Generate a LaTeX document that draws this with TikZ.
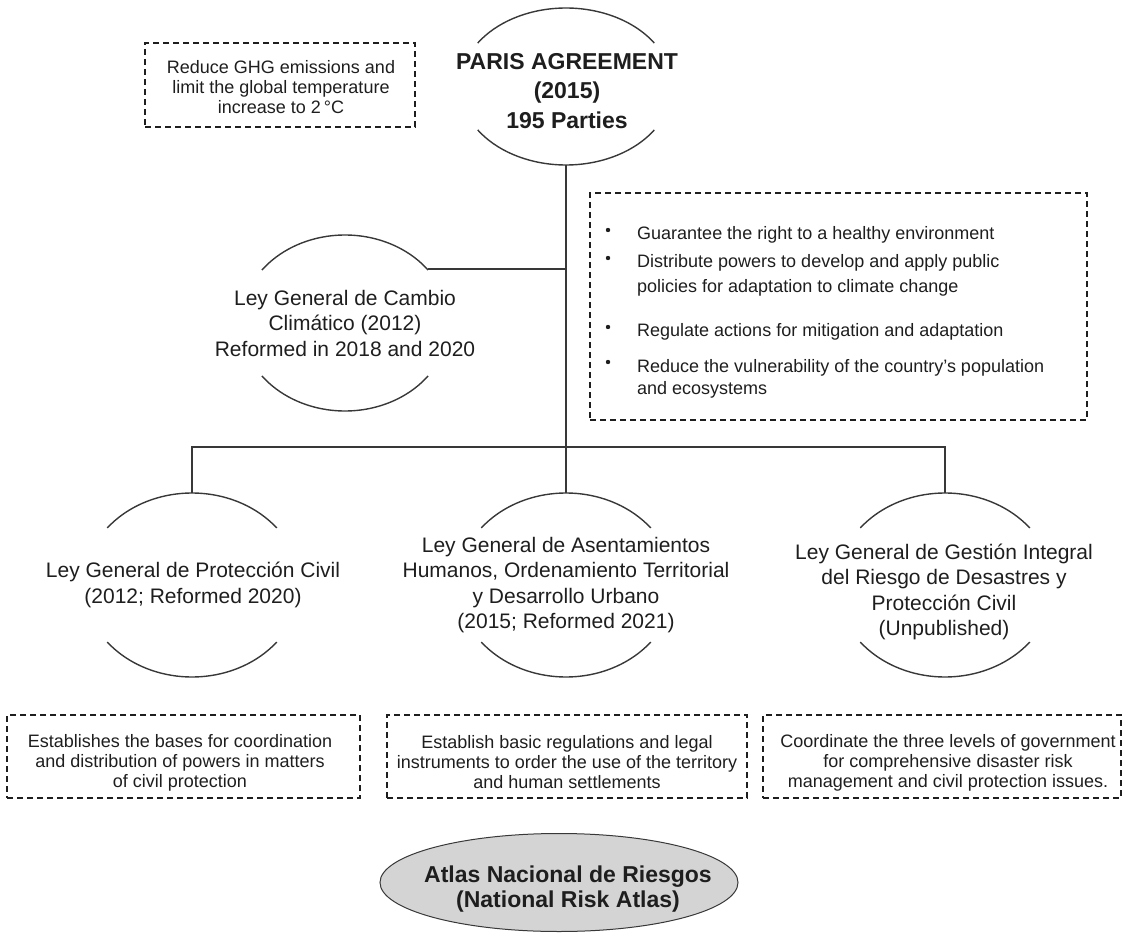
\documentclass[tikz,border=0pt]{standalone}
\usepackage{fontspec}
\setmainfont{Liberation Sans}
\usetikzlibrary{shapes.geometric}
\definecolor{ink}{HTML}{1E1E1E}
\definecolor{linec}{HTML}{383838}
\definecolor{atlasfill}{HTML}{D4D4D4}
\newcommand\pairarcs[4]{%
  \draw[arcl] (#1) ++(#4:#2pt and #3pt) arc[start angle=#4, end angle=180-#4, x radius=#2pt, y radius=#3pt];
  \draw[arcl] (#1) ++(-#4:#2pt and #3pt) arc[start angle=-#4, end angle=-180+#4, x radius=#2pt, y radius=#3pt];}
\begin{document}
\begin{tikzpicture}[x=1pt,y=1pt,
  arcl/.style={draw=linec, line width=1.4pt},
  conn/.style={draw=linec, line width=1.4pt},
  dbox/.style={draw=ink, line width=1.5pt, dash pattern=on 6pt off 4pt, inner sep=0pt},
  ley/.style={text=ink, align=center, font=\fontsize{21}{25.5}\selectfont},
  small/.style={text=ink, align=center, font=\fontsize{18}{20}\selectfont},
  item/.style={text=ink, align=left, anchor=west, inner sep=0pt},
  boldt/.style={text=ink, align=center, font=\bfseries\fontsize{23}{29.5}\selectfont}]

\useasboundingbox (0,0) rectangle (1124,-933);

% ---- Paris Agreement
\coordinate (pC) at (566,-86.5);
\pairarcs{pC}{106}{78.5}{33.6}
\coordinate (parisB) at (566,-165);
\node[boldt] (paris) at (567,-91) {PARIS AGREEMENT\\(2015)\\195 Parties};

% ---- goal box
\node[dbox, minimum width=270pt, minimum height=84pt] (goal) at (280,-85) {};
\node[small] (goaltxt) at (281,-87) {Reduce GHG emissions and\\limit the global temperature\\increase to 2\,°C};

% ---- bullet box
\node[dbox, minimum width=497pt, minimum height=227pt] (bbox) at (838.5,-306.5) {};
\node[item, font=\fontsize{18}{24}\selectfont] (i1) at (637,-235) {Guarantee the right to a healthy environment};
\node[item, font=\fontsize{18}{25}\selectfont] (i2) at (637,-275.5) {Distribute powers to develop and apply public\\policies for adaptation to climate change};
\node[item, font=\fontsize{18}{24}\selectfont] (i3) at (637,-332) {Regulate actions for mitigation and adaptation};
\node[item, font=\fontsize{18}{22}\selectfont] (i4) at (637,-379) {Reduce the vulnerability of the country’s population\\and ecosystems};
\foreach \yy in {230,258,327,362} \fill[ink] (608,-\yy) circle (2.2pt);

% ---- Cambio Climatico
\coordinate (cC) at (345,-323);
\pairarcs{cC}{104}{88}{37}
\node[ley] (cambio) at (345,-323) {Ley General de Cambio\\Climático (2012)\\Reformed in 2018 and 2020};
\coordinate (cambioR) at (428,-269);

% ---- lower laws
\coordinate (prC) at (192,-585);
\coordinate (asC) at (566,-585);
\coordinate (geC) at (945,-585);
\pairarcs{prC}{108}{92}{38.3}
\pairarcs{asC}{108}{92}{38.3}
\pairarcs{geC}{108}{92}{38.3}
\coordinate (protT) at (192,-493);
\coordinate (asentT) at (566,-493);
\coordinate (gestT) at (945,-493);
\node[ley] (prot) at (193,-585) {Ley General de Protección Civil\\(2012; Reformed 2020)};
\node[ley] (asent) at (566,-585) {Ley General de Asentamientos\\Humanos, Ordenamiento Territorial\\y Desarrollo Urbano\\(2015; Reformed 2021)};
\node[ley] (gest) at (944,-592) {Ley General de Gestión Integral\\del Riesgo de Desastres y\\Protección Civil\\(Unpublished)};

% ---- connectors
\coordinate (busY) at (0,-447);
\draw[conn] (parisB) -- (asentT);
\draw[conn] (cambioR) -- (cambioR -| parisB);
\draw[conn] (protT) -- (protT |- busY) -- (gestT |- busY) -- (gestT);

% ---- bottom boxes
\node[dbox, minimum width=353pt, minimum height=83pt] (b1) at (183.5,-756.5) {};
\node[small] (b1t) at (180,-763) {Establishes the bases for coordination\\and distribution of powers in matters\\of civil protection};
\node[dbox, minimum width=360pt, minimum height=83pt] (b2) at (567,-756.5) {};
\node[small] (b2t) at (567,-762) {Establish basic regulations and legal\\instruments to order the use of the territory\\and human settlements};
\node[dbox, minimum width=358pt, minimum height=83pt] (b3) at (942,-756.5) {};
\node[small] (b3t) at (948,-763) {Coordinate the three levels of government\\for comprehensive disaster risk\\management and civil protection issues.};

% ---- Atlas
\node[ellipse, draw=linec, fill=atlasfill, line width=1pt, minimum width=358pt, minimum height=98pt, inner sep=0pt] (atlas) at (559,-882.5) {};
\node[text=ink, align=center, font=\bfseries\fontsize{23}{25}\selectfont] (atlast) at (568,-889) {Atlas Nacional de Riesgos\\(National Risk Atlas)};
\end{tikzpicture}
\end{document}
